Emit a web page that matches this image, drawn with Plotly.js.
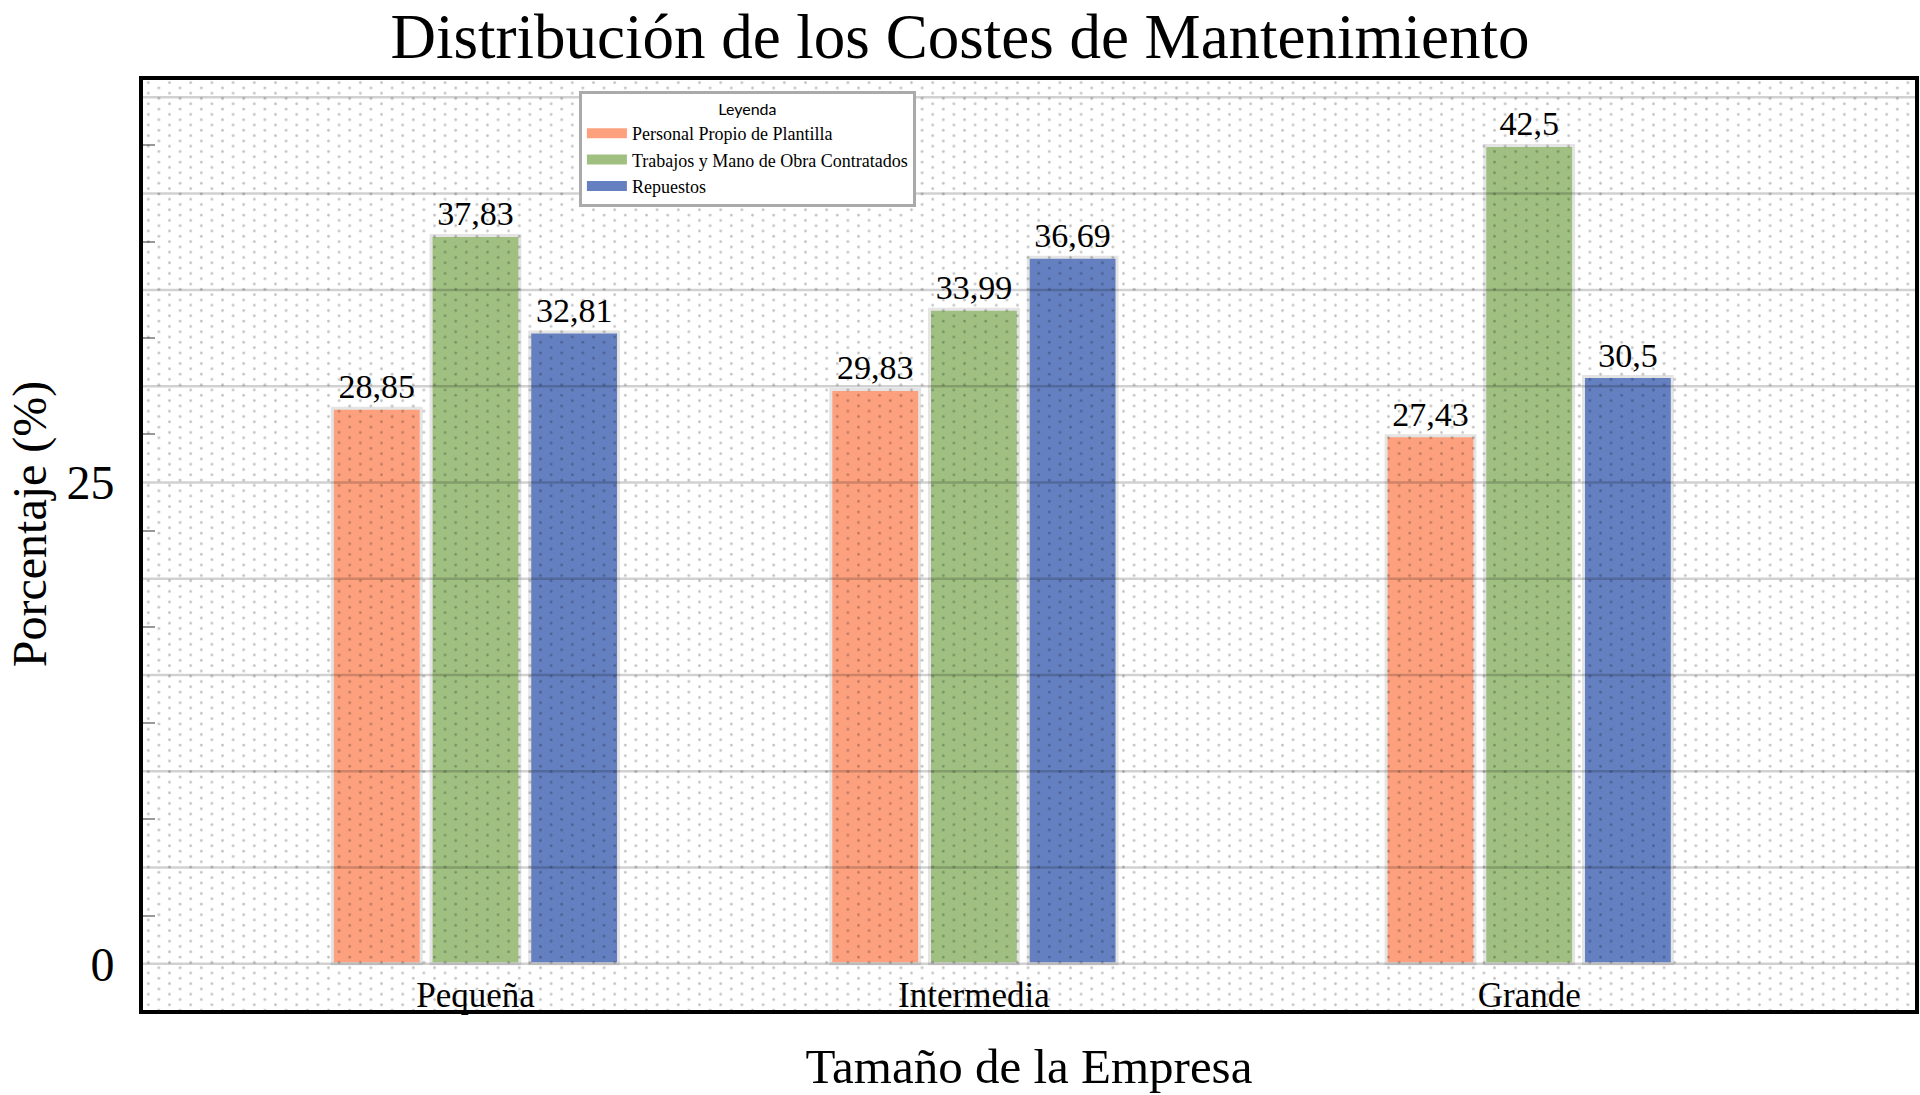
<!DOCTYPE html>
<html>
<head>
<meta charset="utf-8">
<script src="https://cdn.plot.ly/plotly-3.0.1.min.js"></script>
<style>
  html, body { margin: 0; padding: 0; background: #fff; }
  #plot { width: 1920px; height: 1095px; }
</style>
</head>
<body>
<div id="plot"></div>
<script>
// company sizes and where each group sits on the x axis
var sizes = ["Pequeña", "Intermedia", "Grande"];
var sizePos = [0, 1, 2.114];

var personal = [28.85, 29.83, 27.43];
var contratados = [37.83, 33.99, 42.5];
var repuestos = [32.81, 36.69, 30.5];

var seriesNames = ["Personal Propio de Plantilla", "Trabajos y Mano de Obra Contratados", "Repuestos"];
var seriesColors = ["#FCA07E", "#A0C082", "#6480C0"];

var gridVals = [0, 5, 10, 15, 20, 25, 30, 35, 40, 45];
var labelVals = [0, 25];

var serif = "Liberation Serif, Times New Roman, serif";

function comma(v) {
    return String(v).replace(".", ",");
}

function makeTrace(vals, i) {
    return {
        type: "bar",
        name: seriesNames[i],
        x: sizePos,
        y: vals,
        text: vals.map(comma),
        textposition: "outside",
        cliponaxis: false,
        textfont: { family: serif, size: 34, color: "#000" },
        marker: {
            color: seriesColors[i],
            line: { color: "#e4e4e4", width: 3 }
        },
        showlegend: false,
        hoverinfo: "skip"
    };
}

// legend-only entries so the swatches come out as wide strips
function legendEntry(i) {
    return {
        type: "scatter",
        mode: "lines",
        name: seriesNames[i],
        x: [null],
        y: [null],
        line: { color: seriesColors[i], width: 10 },
        hoverinfo: "skip"
    };
}

var traces = [
    makeTrace(personal, 0),
    makeTrace(contratados, 1),
    makeTrace(repuestos, 2),
    legendEntry(0),
    legendEntry(1),
    legendEntry(2)
];

// dotted texture laid over the whole plot area
var W = 1772, H = 930;
var dotsSvg = "<svg xmlns='http://www.w3.org/2000/svg' width='" + W + "' height='" + H + "'>" +
    "<defs><pattern id='p' width='21.2' height='10.6' patternUnits='userSpaceOnUse'>" +
    "<circle cx='5.3' cy='2.65' r='1.35' fill='rgba(0,0,0,0.24)'/>" +
    "<circle cx='15.9' cy='7.95' r='1.35' fill='rgba(0,0,0,0.24)'/>" +
    "</pattern></defs><rect width='100%' height='100%' fill='url(#p)'/></svg>";
var dotsUri = "data:image/svg+xml;charset=utf-8," + encodeURIComponent(dotsSvg);

// gridlines drawn over the bars, like in the original
var gridShapes = gridVals.map(function (v) {
    return {
        type: "line", xref: "paper", yref: "y",
        x0: 0, x1: 1, y0: v, y1: v,
        layer: "above",
        line: { color: "rgba(0,0,0,0.18)", width: 2.5 }
    };
});

var layout = {
    width: 1920,
    height: 1095,
    paper_bgcolor: "#fff",
    plot_bgcolor: "#fff",
    margin: { l: 143, r: 5, t: 80, b: 85 },
    font: { family: serif, color: "#000" },
    title: {
        text: "Distribución de los Costes de Mantenimiento",
        font: { family: serif, size: 63, color: "#000" },
        x: 0.5, xanchor: "center",
        y: 0.967, yanchor: "middle", yref: "container"
    },
    barmode: "group",
    bargap: 0.406,
    bargroupgap: 0.1,
    xaxis: {
        range: [-0.667, 2.888],
        tickmode: "array",
        tickvals: sizePos,
        ticktext: sizes,
        ticks: "",
        ticklabelposition: "inside",
        tickfont: { family: serif, size: 35, color: "#000" },
        showgrid: false,
        zeroline: false,
        showline: true,
        mirror: true,
        linecolor: "#000",
        linewidth: 4,
        title: {
            text: "Tamaño de la Empresa",
            font: { family: serif, size: 49, color: "#000" },
            standoff: 36
        }
    },
    yaxis: {
        range: [-2.4, 45.9],
        tickmode: "array",
        tickvals: labelVals,
        ticktext: labelVals.map(String),
        ticks: "",
        ticklabelstandoff: 15,
        tickfont: { family: serif, size: 48, color: "#000" },
        showgrid: false,
        zeroline: false,
        showline: true,
        mirror: true,
        linecolor: "#000",
        linewidth: 4,
        minor: {
            tickmode: "linear",
            tick0: 2.5,
            dtick: 5,
            ticks: "inside",
            ticklen: 12,
            tickwidth: 2,
            tickcolor: "#999",
            showgrid: false
        }
    },
    annotations: [{
        text: "Porcentaje (%)",
        textangle: -90,
        xref: "paper", yref: "paper",
        x: -0.064, y: 0.523,
        xanchor: "center", yanchor: "middle",
        showarrow: false,
        font: { family: serif, size: 48, color: "#000" }
    }],
    legend: {
        x: 0.246, y: 0.988,
        xanchor: "left", yanchor: "top",
        bgcolor: "#fff",
        bordercolor: "#aaa",
        borderwidth: 3,
        font: { family: serif, size: 18, color: "#000" },
        title: {
            text: "Leyenda",
            side: "top center",
            font: { family: "Lato, Open Sans, sans-serif", size: 16, color: "#000" }
        },
        tracegroupgap: 0,
        itemwidth: 40
    },
    shapes: gridShapes,
    images: [{
        source: dotsUri,
        xref: "paper", yref: "paper",
        x: 0, y: 1, sizex: 1, sizey: 1,
        xanchor: "left", yanchor: "top",
        sizing: "stretch",
        layer: "above"
    }],
    showlegend: true
};

Plotly.newPlot("plot", traces, layout, { displayModeBar: false, staticPlot: true });
</script>
</body>
</html>
